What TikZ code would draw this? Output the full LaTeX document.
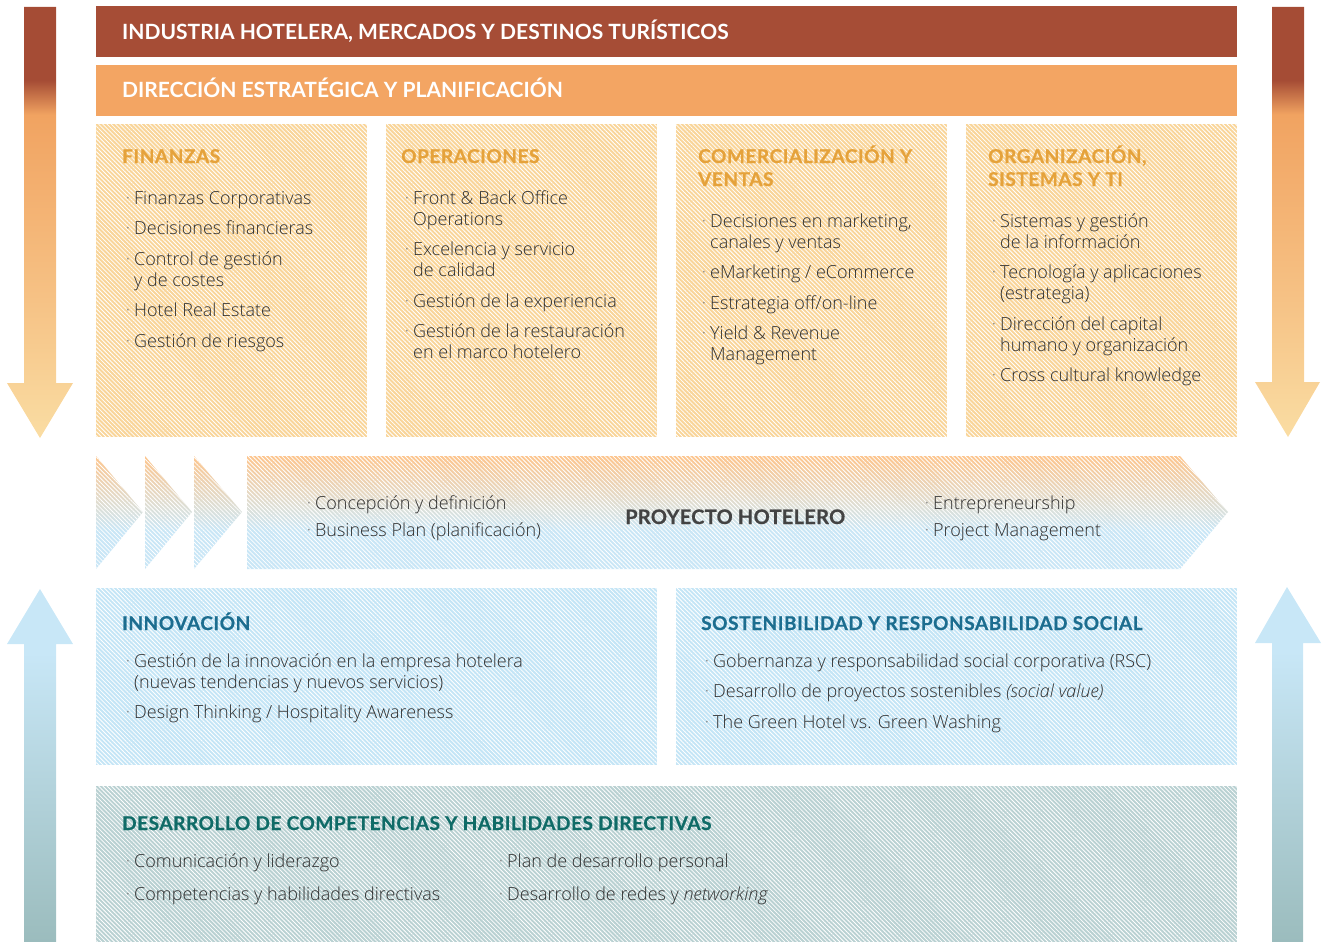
\documentclass[tikz,border=0pt]{standalone}
\usepackage{fontspec}
\setmainfont{Open Sans}[UprightFont=* Light, ItalicFont=* Light Italic]
\newfontfamily\headfont{Lato}
\usetikzlibrary{patterns.meta}

\definecolor{bannerdark}{HTML}{A64D36}
\definecolor{bannerorange}{HTML}{F3A563}
\definecolor{warmdark}{HTML}{A54C35}
\definecolor{warmorange}{HTML}{F1A361}
\definecolor{warmmid}{HTML}{F6C285}
\definecolor{warmlight}{HTML}{FADDA3}
\definecolor{cooltop}{HTML}{C8E7F7}
\definecolor{coolbottom}{HTML}{9BBCBD}
\definecolor{bandorange}{HTML}{FDC58D}
\definecolor{bandgrey}{HTML}{DCDFD8}
\definecolor{bandblue}{HTML}{C9E6F6}
\definecolor{yellowbox}{HTML}{F9D599}
\definecolor{bluebox}{HTML}{C4E5F6}
\definecolor{tealbox}{HTML}{B9D1D2}
\definecolor{yellowhead}{HTML}{E5A23B}
\definecolor{bluehead}{HTML}{1C6D8F}
\definecolor{tealhead}{HTML}{0F6B67}
\definecolor{textgray}{HTML}{2E2E2E}
\definecolor{bulgray}{HTML}{7A7A7A}

\pgfdeclareverticalshading{downgrad}{100bp}{color(0bp)=(warmlight); color(25bp)=(warmlight); color(41bp)=(warmmid); color(62.5bp)=(warmorange); color(66.5bp)=(warmdark); color(75bp)=(warmdark); color(100bp)=(warmdark)}
\pgfdeclareverticalshading{upgrad}{100bp}{color(0bp)=(coolbottom); color(25bp)=(coolbottom); color(66bp)=(cooltop); color(75bp)=(cooltop); color(100bp)=(cooltop)}
\pgfdeclareverticalshading{bandgrad}{100bp}{color(0bp)=(bandblue); color(25bp)=(bandblue); color(42bp)=(bandblue); color(52bp)=(bandgrey); color(75bp)=(bandorange); color(100bp)=(bandorange)}

\newcommand{\bul}{\llap{\textcolor{bulgray}{\textperiodcentered}\hspace{4pt}}}

% multi-line nodes sit on the baseline of their last line
\tikzset{
  hatch/.style={pattern={Lines[angle=-45,distance=3pt,line width=0.8pt]}, pattern color=white},
  bannertext/.style={anchor=base west, inner sep=0pt, text=white, font=\headfont\bfseries\fontsize{21}{25}\selectfont},
  boxhead/.style={anchor=base west, inner sep=0pt, align=left, font=\headfont\bfseries\fontsize{19}{23}\selectfont\addfontfeatures{LetterSpace=3,FakeBold=0.6}},
  itemlist/.style={anchor=base west, inner sep=0pt, align=left, text=textgray, font=\fontsize{18}{21}\selectfont},
}

\begin{document}
\begin{tikzpicture}[x=1pt,y=-1pt]
  \useasboundingbox (0,0) rectangle (1328,942);

  % Draw the side arrows
  \shade[shading=downgrad] (24,7) -- (56,7) -- (56,383) -- (73,383) -- (40,438) -- (7,383) -- (24,383) -- cycle;
  \shade[shading=downgrad] (1272,7) -- (1304,7) -- (1304,382) -- (1320,382) -- (1288,437) -- (1255,382) -- (1272,382) -- cycle;
  \shade[shading=upgrad] (24,942) -- (56,942) -- (56,644) -- (73,644) -- (40,589) -- (7,644) -- (24,644) -- cycle;
  \shade[shading=upgrad] (1272,942) -- (1303,942) -- (1303,643) -- (1321,643) -- (1287,587) -- (1255,643) -- (1272,643) -- cycle;

  % Draw the banners
  \fill[bannerdark] (96,6) rectangle (1237,57);
  \fill[bannerorange] (96,65) rectangle (1237,116);
  \node[bannertext] (industria) at (122,40) {INDUSTRIA HOTELERA, MERCADOS Y DESTINOS TURÍSTICOS};
  \node[bannertext] (direccion) at (122,97) {DIRECCIÓN ESTRATÉGICA Y PLANIFICACIÓN};

  % Draw the four area boxes
  \fill[yellowbox, postaction={hatch}] (96,124) rectangle (367,437);
  \fill[yellowbox, postaction={hatch}] (386,124) rectangle (657,437);
  \fill[yellowbox, postaction={hatch}] (676,124) rectangle (947,437);
  \fill[yellowbox, postaction={hatch}] (966,124) rectangle (1237,437);

  \node[boxhead, text=yellowhead] (finanzas) at (122,163) {FINANZAS};
  \node[itemlist] (finanzaslist) at (134,347) {\bul Finanzas Corporativas\\[9.5pt]
    \bul Decisiones financieras\\[9.5pt]
    \bul Control de gestión\\y de costes\\[9.5pt]
    \bul Hotel Real Estate\\[9.5pt]
    \bul Gestión de riesgos};

  \node[boxhead, text=yellowhead] (operaciones) at (401,163) {OPERACIONES};
  \node[itemlist] (operacioneslist) at (413,358.5) {\bul Front \& Back Office\\Operations\\[9.5pt]
    \bul Excelencia y servicio\\de calidad\\[9.5pt]
    \bul Gestión de la experiencia\\[9.5pt]
    \bul Gestión de la restauración\\en el marco hotelero};

  \node[boxhead, text=yellowhead] (comercial) at (698,186) {COMERCIALIZACIÓN Y\\VENTAS};
  \node[itemlist] (comerciallist) at (710,360.5) {\bul Decisiones en marketing,\\canales y ventas\\[9.5pt]
    \bul eMarketing / eCommerce\\[9.5pt]
    \bul Estrategia off/on-line\\[9.5pt]
    \bul Yield \& Revenue\\Management};

  \node[boxhead, text=yellowhead] (organizacion) at (988,186) {ORGANIZACIÓN,\\SISTEMAS Y TI};
  \node[itemlist] (organizacionlist) at (1000,381.5) {\bul Sistemas y gestión\\de la información\\[9.5pt]
    \bul Tecnología y aplicaciones\\(estrategia)\\[9.5pt]
    \bul Dirección del capital\\humano y organización\\[9.5pt]
    \bul Cross cultural knowledge};

  % Draw the project band
  \shade[shading=bandgrad, postaction={hatch}] (96,456) -- (143,512) -- (96,569) -- cycle;
  \shade[shading=bandgrad, postaction={hatch}] (145,456) -- (192,512) -- (145,569) -- cycle;
  \shade[shading=bandgrad, postaction={hatch}] (194,456) -- (242,512) -- (194,569) -- cycle;
  \shade[shading=bandgrad, postaction={hatch}] (247,456) -- (1180,456) -- (1228,512) -- (1180,569) -- (247,569) -- cycle;

  \node[itemlist] (proyectoleft) at (315,536) {\bul Concepción y definición\\[6pt]
    \bul Business Plan (planificación)};
  \node[anchor=base west, inner sep=0pt, text=textgray!90, font=\headfont\bfseries\fontsize{20}{24}\selectfont\addfontfeatures{LetterSpace=1.5,FakeBold=0.6}] (proyecto) at (625,524) {PROYECTO HOTELERO};
  \node[itemlist] (proyectoright) at (933,536) {\bul Entrepreneurship\\[6pt]
    \bul Project Management};

  % Draw the lower boxes
  \fill[bluebox, postaction={hatch}] (96,588) rectangle (657,765);
  \fill[bluebox, postaction={hatch}] (676,588) rectangle (1237,765);
  \fill[tealbox, postaction={hatch}] (96,786) rectangle (1237,942);

  \node[boxhead, text=bluehead] (innovacion) at (122,630) {INNOVACIÓN};
  \node[itemlist] (innovacionlist) at (134,718) {\bul Gestión de la innovación en la empresa hotelera\\(nuevas tendencias y nuevos servicios)\\[9pt]
    \bul Design Thinking / Hospitality Awareness};

  \node[boxhead, text=bluehead] (sostenibilidad) at (701,630) {SOSTENIBILIDAD Y RESPONSABILIDAD SOCIAL};
  \node[itemlist] (sostenibilidadlist) at (713,728) {\bul Gobernanza y responsabilidad social corporativa (RSC)\\[9.5pt]
    \bul Desarrollo de proyectos sostenibles \textit{(social value)}\\[9.5pt]
    \bul The Green Hotel vs. Green Washing};

  \node[boxhead, text=tealhead] (desarrollo) at (122,830) {DESARROLLO DE COMPETENCIAS Y HABILIDADES DIRECTIVAS};
  \node[itemlist] (desarrolloleft) at (134,900) {\bul Comunicación y liderazgo\\[12pt]
    \bul Competencias y habilidades directivas};
  \node[itemlist] (desarrolloright) at (507,900) {\bul Plan de desarrollo personal\\[12pt]
    \bul Desarrollo de redes y \textit{networking}};
\end{tikzpicture}
\end{document}
